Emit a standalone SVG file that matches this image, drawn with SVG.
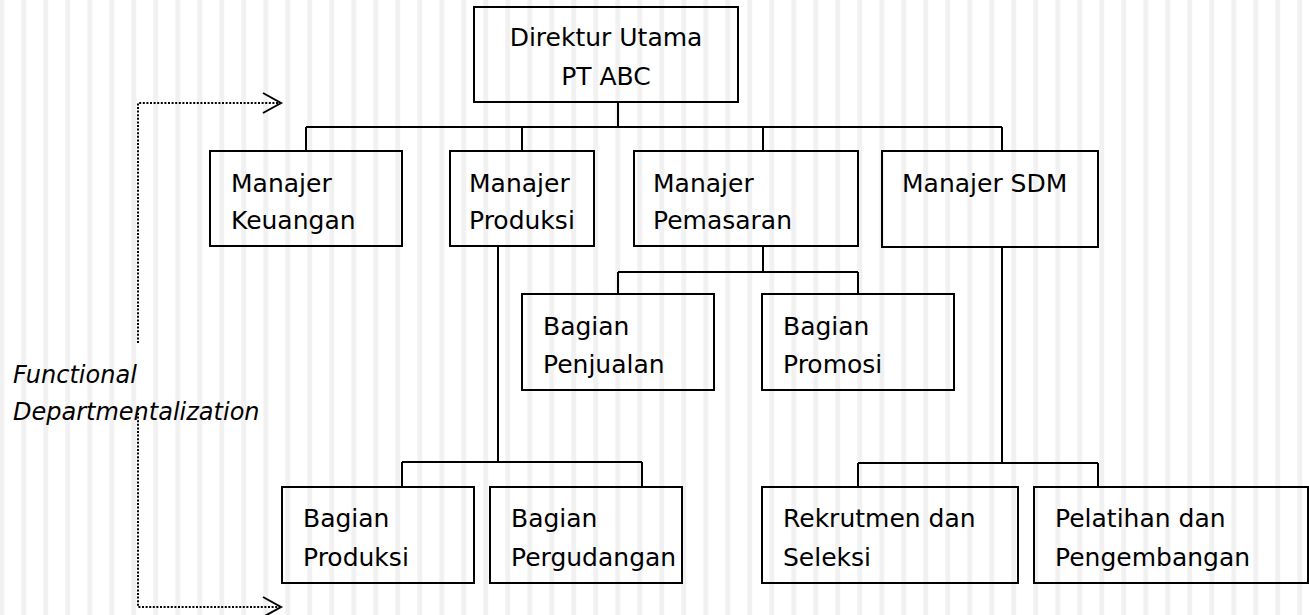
<svg xmlns="http://www.w3.org/2000/svg" width="1309" height="615" viewBox="0 0 1309 615">
<style>
.box{fill:none;stroke:#000;stroke-width:2}
.ln{fill:none;stroke:#000;stroke-width:2}
.dot{fill:none;stroke:#000;stroke-width:2;stroke-dasharray:2 1.6}
.arr{fill:none;stroke:#000;stroke-width:2}
text{font-family:"DejaVu Sans","Liberation Sans",sans-serif;font-size:25px;fill:#000}
.it{font-style:italic;font-size:24px}
</style>
<defs>
<pattern id="stripes" patternUnits="userSpaceOnUse" x="21.3" y="0" width="22" height="615">
<rect x="0" y="0" width="5" height="615" fill="#f1f1f1"/>
</pattern>
</defs>
<rect x="0" y="0" width="1309" height="615" fill="#fff"/>
<rect x="0" y="0" width="1309" height="615" fill="url(#stripes)"/>

<g id="connectors">
<path class="ln" d="M618,102V127M306,127H1002M306,127V151M522,127V151M763,127V151M1002,127V151"/>
<path class="ln" d="M498,246V462M402,462H642M402,462V487M642,462V487"/>
<path class="ln" d="M763,246V272M618,272H858M618,272V294M858,272V294"/>
<path class="ln" d="M1002,247V463M858,463H1098M858,463V487M1098,463V487"/>
</g>

<g id="dept-arrow">
<path class="dot" d="M138,343V103H279"/>
<path class="dot" d="M138,413V607H279"/>
<path class="arr" d="M263,93L281,103L263,113"/>
<path class="arr" d="M263,597L281,607L263,617"/>
<text class="it" x="13" y="383">Functional</text>
<text class="it" x="13" y="420">Departmentalization</text>
</g>

<g id="direktur">
<rect class="box" x="474" y="7" width="264" height="95"/>
<text x="606" y="46" text-anchor="middle">Direktur Utama</text>
<text x="606" y="85" text-anchor="middle">PT ABC</text>
</g>
<g id="keuangan">
<rect class="box" x="210" y="151" width="192" height="95"/>
<text x="231" y="192">Manajer</text>
<text x="231" y="229">Keuangan</text>
</g>
<g id="produksi">
<rect class="box" x="450" y="151" width="144" height="95"/>
<text x="469" y="192">Manajer</text>
<text x="469" y="229">Produksi</text>
</g>
<g id="pemasaran">
<rect class="box" x="634" y="151" width="224" height="95"/>
<text x="653" y="192">Manajer</text>
<text x="653" y="229">Pemasaran</text>
</g>
<g id="sdm">
<rect class="box" x="882" y="151" width="216" height="96"/>
<text x="902" y="192">Manajer SDM</text>
</g>
<g id="penjualan">
<rect class="box" x="522" y="294" width="192" height="96"/>
<text x="543" y="335">Bagian</text>
<text x="543" y="373">Penjualan</text>
</g>
<g id="promosi">
<rect class="box" x="762" y="294" width="192" height="96"/>
<text x="783" y="335">Bagian</text>
<text x="783" y="373">Promosi</text>
</g>
<g id="bag-produksi">
<rect class="box" x="282" y="487" width="192" height="96"/>
<text x="303" y="527">Bagian</text>
<text x="303" y="566">Produksi</text>
</g>
<g id="pergudangan">
<rect class="box" x="490" y="487" width="192" height="96"/>
<text x="511" y="527">Bagian</text>
<text x="511" y="566">Pergudangan</text>
</g>
<g id="rekrutmen">
<rect class="box" x="762" y="487" width="256" height="96"/>
<text x="783" y="527">Rekrutmen dan</text>
<text x="783" y="566">Seleksi</text>
</g>
<g id="pelatihan">
<rect class="box" x="1034" y="487" width="274" height="96"/>
<text x="1055" y="527">Pelatihan dan</text>
<text x="1055" y="566">Pengembangan</text>
</g>
</svg>
